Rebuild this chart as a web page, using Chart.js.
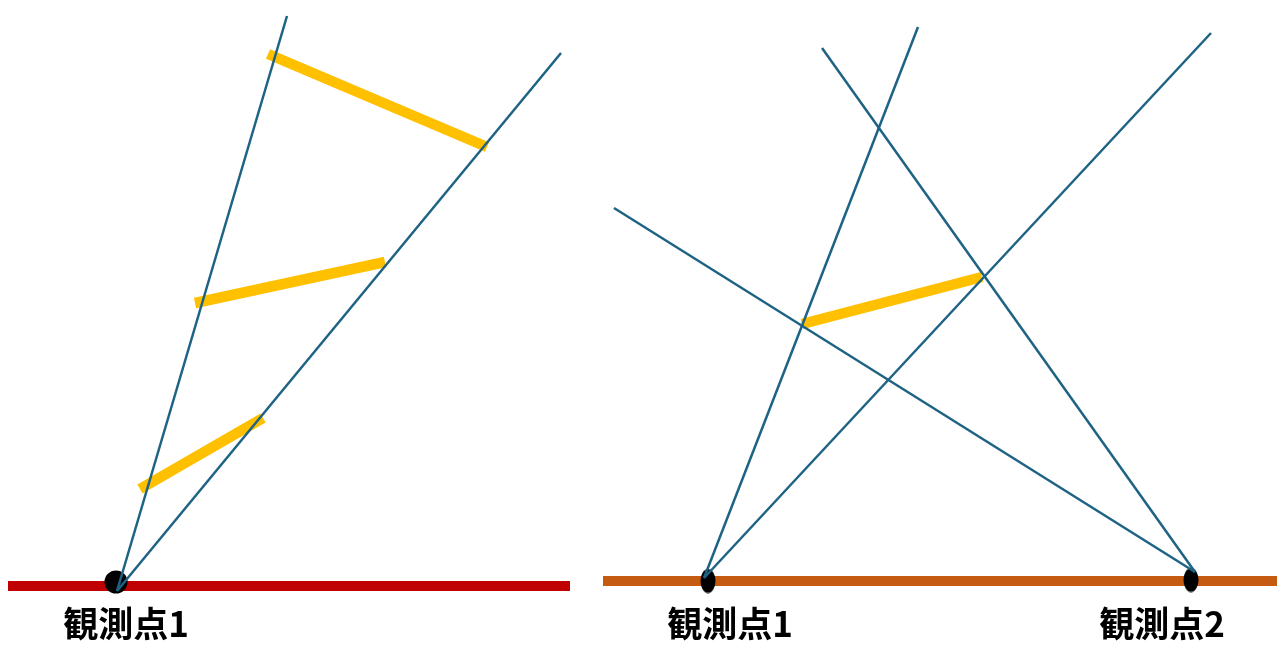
<!DOCTYPE html>
<html>
<head>
<meta charset="utf-8">
<script src="https://cdn.jsdelivr.net/npm/chart.js@4/dist/chart.umd.min.js"></script>
<style>
html,body{margin:0;padding:0;background:#fff;}
canvas{display:block;}
</style>
</head>
<body>
<canvas id="c" width="1277" height="648"></canvas>
<script>
// ---- data (diagram coordinates) ----
const baselineLeft = [[8, 586], [570, 586]];
const baselineRight = [[603, 581], [1277, 581]];

const observerLeft = [[116, 582]];
const observersRight = [[708, 581], [1191, 580]];

const rayOriginLeft = [117, 591];
const rayEndsLeft = [[287, 16], [561, 53]];

const rayOriginRight1 = [704, 578];
const rayEndsRight1 = [[918, 27], [1211, 33]];
const rayOriginRight2 = [1195, 572];
const rayEndsRight2 = [[822, 48], [614, 208]];

const barsLeft = [
  [[268, 54], [487, 147]],
  [[195, 303], [385, 262]],
  [[140, 489], [263, 418]]
];
const barsRight = [
  [[802, 324], [982, 277]]
];

const labelTexts = ['観測点1', '観測点1', '観測点2'];
const labelPositions = [[126, 624], [730, 624], [1162, 624]];

// ---- styles ----
const BLUE = '#1E6384';
const YELLOW = '#FFC000';
const RED = '#C00000';
const ORANGE = '#C55A11';

const pt = p => ({x: p[0], y: p[1]});
const datasets = [];
function seg(a, b, color, width, order) {
  datasets.push({type: 'line', data: [pt(a), pt(b)], borderColor: color, borderWidth: width,
    pointRadius: 0, showLine: true, fill: false, clip: false, order: order, borderCapStyle: 'butt'});
}
seg(baselineLeft[0], baselineLeft[1], RED, 10, 5);
seg(baselineRight[0], baselineRight[1], ORANGE, 10, 5);

// ellipse point style
const ell = document.createElement('canvas');
ell.width = 16; ell.height = 25;
const ec = ell.getContext('2d');
ec.fillStyle = '#000';
ec.beginPath(); ec.ellipse(8, 12.5, 7.5, 12, 0, 0, Math.PI * 2); ec.fill();

datasets.push({type: 'scatter', data: observerLeft.map(pt), pointRadius: 11.5, pointStyle: 'circle',
  backgroundColor: '#000', borderColor: '#000', borderWidth: 0, clip: false, order: 4});
datasets.push({type: 'scatter', data: observersRight.map(pt), pointStyle: ell, pointRadius: 12,
  clip: false, order: 4});

barsLeft.concat(barsRight).forEach(b => seg(b[0], b[1], YELLOW, 10.5, 3));
rayEndsLeft.forEach(e => seg(rayOriginLeft, e, BLUE, 2.5, 1));
rayEndsRight1.forEach(e => seg(rayOriginRight1, e, BLUE, 2.5, 1));
rayEndsRight2.forEach(e => seg(rayOriginRight2, e, BLUE, 2.5, 1));

const labelPlugin = {
  id: 'labels',
  afterDatasetsDraw(chart) {
    const ctx = chart.ctx;
    const xs = chart.scales.x, ys = chart.scales.y;
    ctx.save();
    ctx.fillStyle = '#000';
    ctx.font = 'bold 35px "Noto Sans CJK JP", "Noto Sans", sans-serif';
    ctx.textAlign = 'center';
    ctx.textBaseline = 'middle';
    labelTexts.forEach((t, i) => {
      ctx.fillText(t, xs.getPixelForValue(labelPositions[i][0]), ys.getPixelForValue(labelPositions[i][1]));
    });
    ctx.restore();
  }
};

new Chart(document.getElementById('c'), {
  type: 'scatter',
  data: {datasets},
  options: {
    responsive: false,
    animation: false,
    devicePixelRatio: 1,
    layout: {padding: 0, autoPadding: false},
    plugins: {legend: {display: false}, tooltip: {enabled: false}},
    scales: {
      x: {type: 'linear', min: 0, max: 1277, display: false},
      y: {type: 'linear', min: 0, max: 648, reverse: true, display: false}
    }
  },
  plugins: [labelPlugin]
});
</script>
</body>
</html>
